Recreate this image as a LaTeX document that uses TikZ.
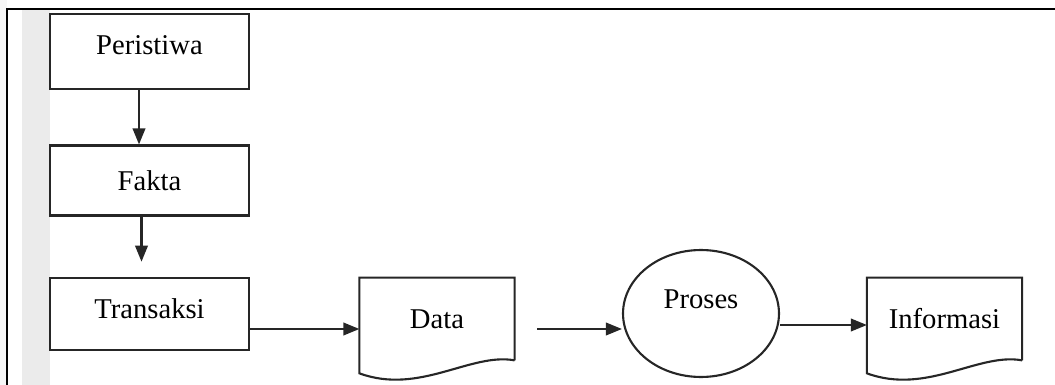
\documentclass[tikz,border=0pt]{standalone}
\usepackage{fontspec}
\setmainfont{Liberation Serif}
\usetikzlibrary{shapes.geometric,arrows.meta}

\tikzset{
  garis/.style={line width=1.2pt, draw=black!85},
  kotak/.style={garis, minimum width=3.98cm, minimum height=1.45cm, inner sep=0pt},
  dok/.style={minimum width=3.09cm, minimum height=1.64cm, inner sep=0pt},
  panah/.style={garis, -{Triangle[length=0.32cm,width=0.25cm]}},
}

\begin{document}
\begin{tikzpicture}[x=0.02cm, y=-0.02cm, font=\fontsize{16.3}{19}\selectfont]
    \useasboundingbox (0,0) rectangle (1055,385);

    % latar dan bingkai
    \fill[gray!7] (0,0) rectangle (7,385);
    \fill[gray!16] (22,9) rectangle (50,385);
    \draw[line width=1.7pt] (7,385) -- (7,9) -- (1055,9);

    \node[kotak, minimum height=1.5cm, text depth=0.24cm] (peristiwa) at (149.5,51.5) {Peristiwa};
    \node[kotak, minimum height=1.4cm] (fakta) at (149.5,180.5) {Fakta};
    \node[kotak, text depth=0.2cm] (transaksi) at (149.5,314) {Transaksi};

    \node[dok] (data) at (437,319) {Data};
    \node[dok] (informasi) at (944.5,319) {Informasi};
    \node[garis, draw, ellipse, minimum width=3.12cm, minimum height=2.54cm,
          label={[yshift=0.29cm]center:Proses}] (proses) at (701,313.5) {};

    % bentuk dokumen
    \foreach \d in {data, informasi}
        \draw[garis] (\d.south east) -- (\d.north east) -- (\d.north west)
            -- ([yshift=-0.26cm]\d.south west)
            .. controls +(60,22) and +(-44,-8) .. (\d.south east);

    \coordinate (awal) at (537,329);

    \draw[panah] ([xshift=-0.21cm]peristiwa.south) -- ([xshift=-0.21cm]fakta.north);
    \draw[panah, shorten >=0.3cm] ([xshift=-0.16cm]fakta.south) -- ([xshift=-0.16cm]transaksi.north);

    \draw[panah] ([yshift=-0.3cm]transaksi.east) -- ([yshift=-0.3cm]transaksi.east -| data.west);
    \draw[panah] (awal) -- (awal -| proses.west);
    \draw[panah] ([yshift=-0.23cm]proses.east) -- ([yshift=-0.23cm]proses.east -| informasi.west);

\end{tikzpicture}
\end{document}
